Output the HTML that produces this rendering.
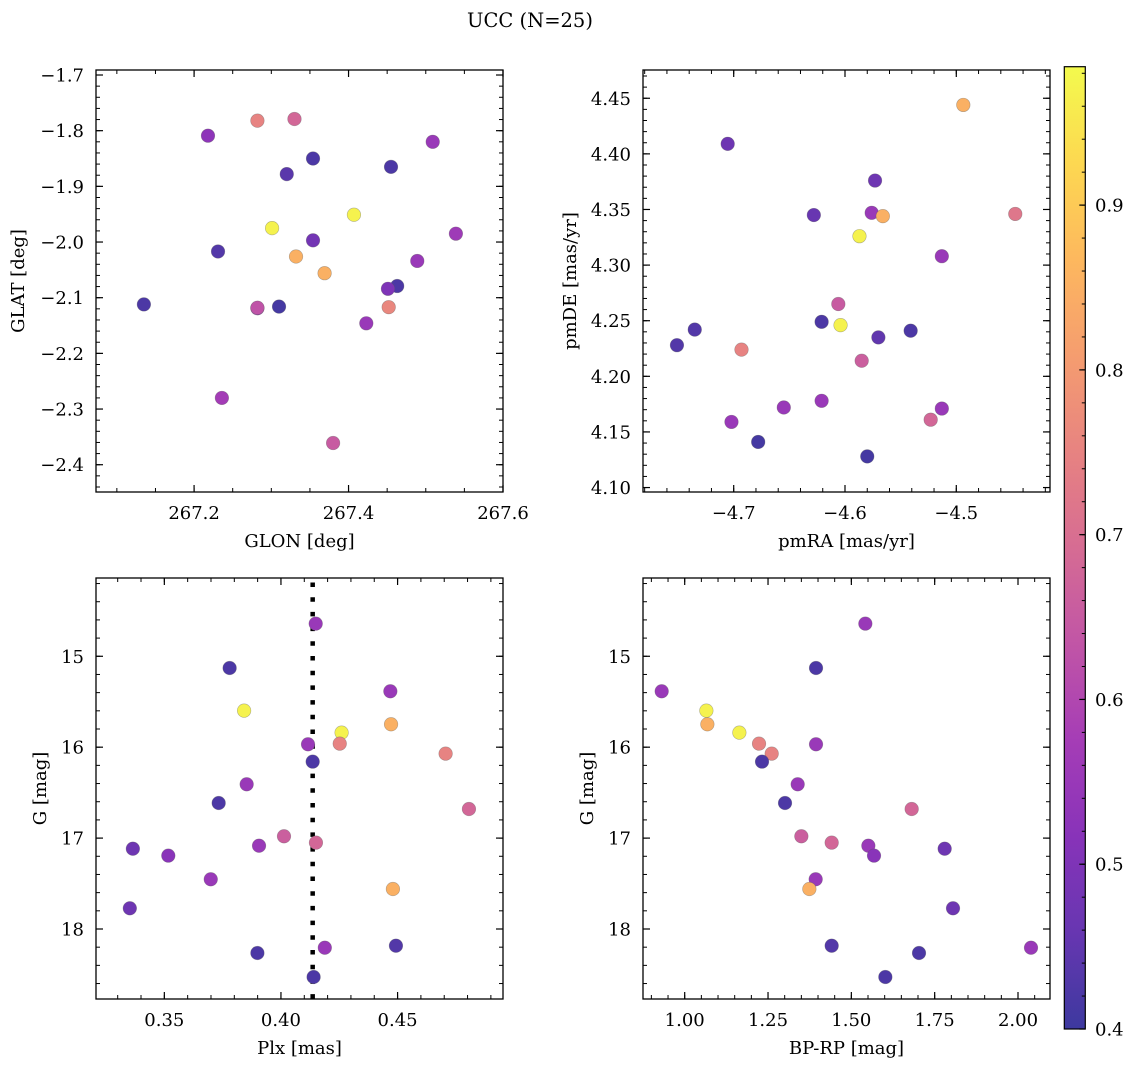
<!DOCTYPE html>
<html><head><meta charset="utf-8"><style>
html,body{margin:0;padding:0;background:#fff;}
svg text{font-family:"DejaVu Serif","Liberation Serif",serif;fill:#000;}
</style></head><body>
<svg id="chart" width="1136" height="1067" viewBox="0 0 1136 1067" xmlns="http://www.w3.org/2000/svg">
<text x="530" y="27" font-size="19.5" text-anchor="middle">UCC (N=25)</text>
</svg>
<script>
// ---- Data ----
const glon = [267.218,267.282,267.330,267.509,267.354,267.455,267.320,267.407,267.301,267.539,267.354,267.231,267.332,267.489,267.369,267.463,267.451,267.135,267.282,267.310,267.452,267.423,267.236,267.380,267.282];
const glat = [-1.809,-1.782,-1.779,-1.820,-1.850,-1.865,-1.878,-1.951,-1.975,-1.985,-1.997,-2.017,-2.026,-2.034,-2.056,-2.079,-2.084,-2.112,-2.119,-2.116,-2.117,-2.146,-2.280,-2.361,-2.118];
const probA = [0.53,0.75,0.68,0.55,0.42,0.42,0.44,0.97,0.97,0.56,0.48,0.43,0.85,0.55,0.85,0.42,0.50,0.42,0.55,0.41,0.76,0.55,0.57,0.65,0.63];

const pmra = [-4.4937,-4.7054,-4.573,-4.628,-4.576,-4.566,-4.447,-4.587,-4.513,-4.606,-4.621,-4.604,-4.735,-4.541,-4.570,-4.751,-4.693,-4.585,-4.621,-4.655,-4.513,-4.702,-4.523,-4.678,-4.580];
const pmde = [4.444,4.409,4.376,4.345,4.347,4.344,4.346,4.326,4.308,4.265,4.249,4.246,4.242,4.241,4.235,4.228,4.224,4.214,4.178,4.172,4.171,4.159,4.161,4.141,4.128];
const probB = [0.85,0.47,0.47,0.46,0.55,0.85,0.72,0.97,0.55,0.65,0.42,0.97,0.43,0.42,0.45,0.43,0.75,0.66,0.55,0.55,0.55,0.55,0.68,0.41,0.41];

const plx = [0.4149,0.3780,0.4469,0.3842,0.4472,0.4260,0.4252,0.4116,0.4706,0.4136,0.3853,0.3733,0.4806,0.4013,0.4150,0.3365,0.3906,0.3517,0.3699,0.4480,0.3352,0.4493,0.4188,0.3899,0.4140];
const bprp = [1.542,1.394,0.931,1.065,1.068,1.164,1.223,1.394,1.261,1.232,1.339,1.301,1.681,1.350,1.441,1.551,1.780,1.568,1.393,1.374,1.805,1.441,2.039,1.703,1.602];
const gmagL = [14.641,15.129,15.385,15.598,15.748,15.840,15.961,15.968,16.071,16.159,16.408,16.614,16.680,16.980,17.050,17.117,17.084,17.193,17.453,17.560,17.772,18.184,18.206,18.264,18.528];
const gmagR = [14.641,15.129,15.385,15.598,15.748,15.840,15.961,15.968,16.071,16.159,16.408,16.614,16.680,16.980,17.050,17.084,17.117,17.193,17.453,17.560,17.772,18.184,18.206,18.264,18.528];
const probC = [0.55,0.42,0.55,0.97,0.85,0.97,0.75,0.55,0.75,0.42,0.55,0.42,0.68,0.66,0.68,0.47,0.55,0.52,0.55,0.85,0.47,0.43,0.55,0.42,0.42];
const probD = [0.55,0.42,0.55,0.97,0.85,0.97,0.75,0.55,0.75,0.42,0.55,0.42,0.68,0.66,0.68,0.55,0.47,0.52,0.55,0.85,0.47,0.43,0.55,0.42,0.42];
const plxMedian = [0.4136];

const ticksGLON = [267.2,267.4,267.6];
const ticksGLAT = [-1.7,-1.8,-1.9,-2.0,-2.1,-2.2,-2.3,-2.4];
const ticksPMRA = [-4.7,-4.6,-4.5];
const ticksPMDE = [4.10,4.15,4.20,4.25,4.30,4.35,4.40,4.45];
const ticksPLX = [0.35,0.40,0.45];
const ticksG = [15,16,17,18];
const ticksBPRP = [1.00,1.25,1.50,1.75,2.00];
const ticksCbar = [0.4,0.5,0.6,0.7,0.8,0.9];

// ---- Helpers ----
const NS = "http://www.w3.org/2000/svg";
const svg = document.getElementById('chart');
const FS = 18;
function mk(tag, attrs, parent){const e=document.createElementNS(NS,tag);for(const k in attrs)e.setAttribute(k,attrs[k]);(parent||svg).appendChild(e);return e;}
const PL = [[13,8,135],[65,4,157],[106,0,168],[143,13,164],[177,42,144],[204,71,120],[225,100,98],[242,132,75],[252,166,54],[252,206,37],[240,249,33]];
const CMIN=0.4, CMAX=0.984;
function plasma(p){let t=(p-CMIN)/(CMAX-CMIN);t=Math.max(0,Math.min(1,t));const f=t*10;const i=Math.min(9,Math.floor(f));const r=f-i;const a=PL[i],b=PL[i+1];
 const c=[0,1,2].map(k=>Math.round((a[k]+(b[k]-a[k])*r)*0.8+255*0.2));return `rgb(${c[0]},${c[1]},${c[2]})`;}
function fmt(v,d){const s=Math.abs(v).toFixed(d);return (v<0?'\u2212':'')+s;}

function panel(o){
 const g=mk('g',{});
 
 
 const sx=v=>o.x0+(v-o.xd[0])/(o.xd[1]-o.xd[0])*(o.x1-o.x0);
 const sy=v=>o.y1-(v-o.yd[0])/(o.yd[1]-o.yd[0])*(o.y1-o.y0);
 const mt=mk('g',{stroke:'#000','stroke-width':1},g);
 
 
 const lo=Math.min(...o.xd),hi=Math.max(...o.xd);
 for(let v=Math.ceil(lo/o.xm-1e-9)*o.xm; v<=hi+1e-9; v+=o.xm){const x=sx(v);mk('line',{x1:x,x2:x,y1:o.y1,y2:o.y1-4},mt);mk('line',{x1:x,x2:x,y1:o.y0,y2:o.y0+4},mt);}
 const ylo=Math.min(...o.yd),yhi=Math.max(...o.yd);
 for(let v=Math.ceil(ylo/o.ym-1e-9)*o.ym; v<=yhi+1e-9; v+=o.ym){const y=sy(v);mk('line',{y1:y,y2:y,x1:o.x0,x2:o.x0+4},mt);mk('line',{y1:y,y2:y,x1:o.x1,x2:o.x1-4},mt);}
 o.xt.forEach(v=>{const x=sx(v);
  mk('line',{x1:x,x2:x,y1:o.y1,y2:o.y1-7,stroke:'#000','stroke-width':1.2},g);
  mk('line',{x1:x,x2:x,y1:o.y0,y2:o.y0+7,stroke:'#000','stroke-width':1.2},g);
  const t=mk('text',{x:x,y:o.y1+27,'font-size':FS,'text-anchor':'middle'},g);t.textContent=fmt(v,o.xdec);
  
  });
 o.yt.forEach(v=>{const y=sy(v);
  mk('line',{y1:y,y2:y,x1:o.x0,x2:o.x0+7,stroke:'#000','stroke-width':1.2},g);
  mk('line',{y1:y,y2:y,x1:o.x1,x2:o.x1-7,stroke:'#000','stroke-width':1.2},g);
  const t=mk('text',{x:o.x0-12,y:y+6.5,'font-size':FS,'text-anchor':'end'},g);t.textContent=fmt(v,o.ydec);
  
  });
 if(o.vline){o.vline.forEach(v=>{const x=sx(v);const l=mk('line',{x1:x,x2:x,y1:o.y0+4.5,y2:o.y1,stroke:'#000','stroke-width':4.5,'stroke-dasharray':'4.5 10.2'},g);
  
  });}
 for(let i=0;i<o.xs.length;i++){
  const c=mk('circle',{cx:sx(o.xs[i]),cy:sy(o.ys[i]),r:6.8,fill:plasma(o.ps[i]),stroke:'rgba(90,90,90,0.45)','stroke-width':0.6},g);
  
  
 }
 const fr=mk('rect',{x:o.x0,y:o.y0,width:o.x1-o.x0,height:o.y1-o.y0,fill:'none',stroke:'#000','stroke-width':1.3},g);
 
 
 const xl=mk('text',{x:(o.x0+o.x1)/2,y:o.y1+55,'font-size':FS,'text-anchor':'middle'},g);xl.textContent=o.xlabel;
 
 
 const yx=o.ylx, yy=(o.y0+o.y1)/2;
 const yl=mk('text',{x:yx,y:yy,'font-size':FS,'text-anchor':'middle',transform:`rotate(-90 ${yx} ${yy})`},g);yl.textContent=o.ylabel;
 
 
}

panel({name:'glon-glat-panel',x0:96,x1:503,y0:70,y1:492,xd:[267.073,267.600],yd:[-2.449,-1.691],xt:ticksGLON,yt:ticksGLAT,xm:0.05,ym:0.02,xdec:1,ydec:1,xs:glon,ys:glat,ps:probA,xlabel:'GLON [deg]',ylabel:'GLAT [deg]',ylx:24});
panel({name:'pm-panel',x0:643,x1:1050,y0:70,y1:492,xd:[-4.7815,-4.4158],yd:[4.0960,4.4754],xt:ticksPMRA,yt:ticksPMDE,xm:0.02,ym:0.01,xdec:1,ydec:2,xs:pmra,ys:pmde,ps:probB,xlabel:'pmRA [mas/yr]',ylabel:'pmDE [mas/yr]',ylx:576});
panel({name:'plx-g-panel',x0:96,x1:503,y0:578,y1:999,xd:[0.3207,0.4952],yd:[18.77,14.139],xt:ticksPLX,yt:ticksG,xm:0.01,ym:0.2,xdec:2,ydec:0,xs:plx,ys:gmagL,ps:probC,xlabel:'Plx [mas]',ylabel:'G [mag]',ylx:46,vline:plxMedian});
panel({name:'cmd-panel',x0:643,x1:1050,y0:578,y1:999,xd:[0.8749,2.0960],yd:[18.77,14.139],xt:ticksBPRP,yt:ticksG,xm:0.05,ym:0.2,xdec:2,ydec:0,xs:bprp,ys:gmagR,ps:probD,xlabel:'BP-RP [mag]',ylabel:'G [mag]',ylx:593});

(function(){
 const x0=1064.3,x1=1085.3,y0=66.7,y1=1029;
 const cy=v=>y1-(v-CMIN)/(CMAX-CMIN)*(y1-y0);
 const defs=mk('defs',{});
 const lg=mk('linearGradient',{id:'cbg',x1:0,y1:1,x2:0,y2:0},defs);
 for(let i=0;i<=20;i++){const p=CMIN+(CMAX-CMIN)*i/20;mk('stop',{offset:(i/20),'stop-color':plasma(p)},lg);}
 const g=mk('g',{});
 
 
 mk('rect',{x:x0,y:y0,width:x1-x0,height:y1-y0,fill:'url(#cbg)'},g);
 for(let v=0.42;v<CMAX;v+=0.02){const y=cy(v);mk('line',{x1:x1,x2:x1-3.5,y1:y,y2:y,stroke:'#000','stroke-width':1},g);}
 ticksCbar.forEach(v=>{const y=cy(v);mk('line',{x1:x1,x2:x1-6,y1:y,y2:y,stroke:'#000','stroke-width':1.2},g);
  const t=mk('text',{x:1095,y:y+6.5,'font-size':FS},g);t.textContent=v.toFixed(1);
  
  });
 mk('rect',{x:x0,y:y0,width:x1-x0,height:y1-y0,fill:'none',stroke:'#000','stroke-width':1.2},g);
})();
</script>
</body></html>
